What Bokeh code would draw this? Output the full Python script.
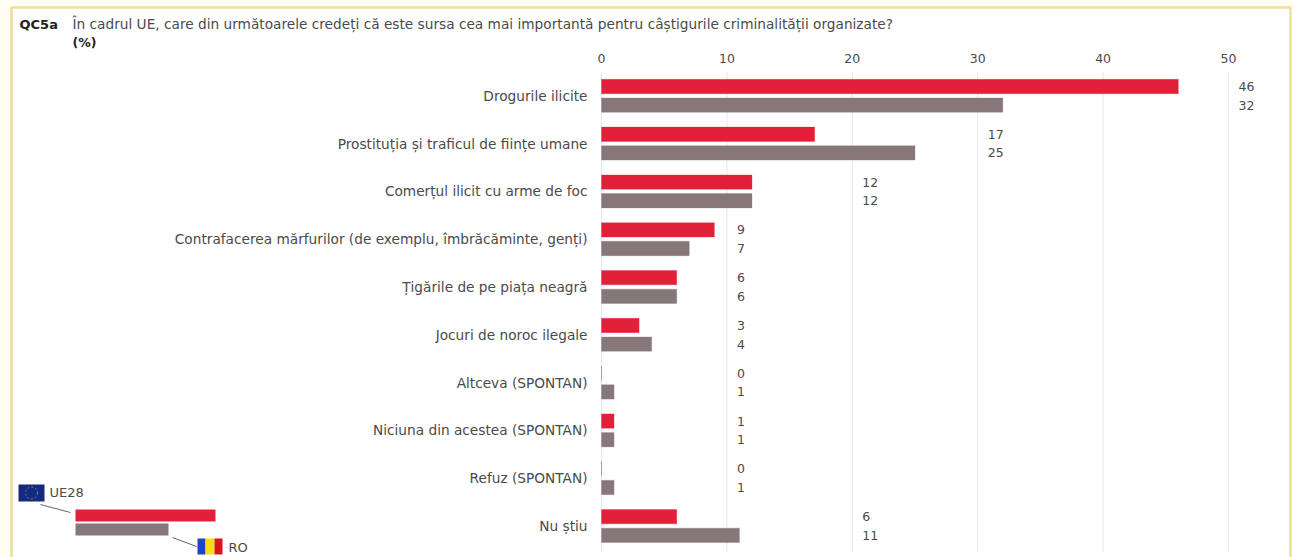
import math
from bokeh.embed import file_html
from bokeh.resources import INLINE
from bokeh.plotting import figure
from bokeh.models import (ColumnDataSource, Range1d, Label, BoxAnnotation, LinearAxis,
                          PolyAnnotation, FixedTicker)
from bokeh.transform import dodge
from bokeh.core.properties import value

categories = [
    "Drogurile ilicite",
    "Prostituția și traficul de ființe umane",
    "Comerțul ilicit cu arme de foc",
    "Contrafacerea mărfurilor (de exemplu, îmbrăcăminte, genți)",
    "Țigările de pe piața neagră",
    "Jocuri de noroc ilegale",
    "Altceva (SPONTAN)",
    "Niciuna din acestea (SPONTAN)",
    "Refuz (SPONTAN)",
    "Nu știu",
]
ue28 = [46, 17, 12, 9, 6, 3, 0, 1, 0, 6]
ro = [32, 25, 12, 7, 6, 4, 1, 1, 1, 11]
x_ticks = [0, 10, 20, 30, 40, 50]

FONT = "DejaVu Sans"
RED = "#e3203a"
GREY = "#86777b"
TEXT = "#4a4a4a"
W, H = 1293, 557
rows = list(range(len(categories)))

# Scale of the plot area: the frame fills the page so the heading and key can share it
PX_PER_UNIT = 12.54
PX_PER_ROW = 47.8
X0_PX = 601
ROW0_PX = 95.3

# Value labels sit just past the next gridline beyond the row's longest bar
label_x = [math.ceil(max(a, b) / 10) * 10 for a, b in zip(ue28, ro)]
source = ColumnDataSource(dict(
    row=rows, ue28=ue28, ro=ro, label_x=label_x,
    ue28_txt=[str(v) for v in ue28], ro_txt=[str(v) for v in ro],
))

p = figure(
    width=W, height=H, output_backend="svg", toolbar_location=None,
    x_range=Range1d(-X0_PX / PX_PER_UNIT, (W - X0_PX) / PX_PER_UNIT),
    y_range=Range1d((H - ROW0_PX) / PX_PER_ROW, -ROW0_PX / PX_PER_ROW),
    x_axis_location=None, y_axis_location=None, min_border=0,
)
p.outline_line_color = None
p.background_fill_color = "#fffef0"
p.border_fill_color = "#fffef0"
p.xgrid.visible = False
p.ygrid.visible = False


# Annotation helpers take page coordinates measured from the top-left corner
def sy(y):
    return H - y


def box(l, t, r, b, color, level="overlay"):
    p.add_layout(BoxAnnotation(left=l, right=r, top=sy(t), bottom=sy(b),
                               left_units="screen", right_units="screen",
                               top_units="screen", bottom_units="screen",
                               fill_color=color, fill_alpha=1, line_color=None, level=level))


def poly(xs, ys, **kw):
    p.add_layout(PolyAnnotation(xs=xs, ys=[sy(v) for v in ys], fill_alpha=0, line_alpha=1,
                                xs_units="screen", ys_units="screen", level="overlay", **kw))


def text(x, y, s, size="12px", style="normal", color=TEXT):
    p.add_layout(Label(x=x, y=sy(y), x_units="screen", y_units="screen", text=s,
                       text_font=FONT, text_font_size=size, text_font_style=style,
                       text_color=color, text_baseline="middle"))


# White panel behind everything else
box(11, 7, 1290, 557, "white", level="underlay")

# Gridlines span the rows only
p.segment(x0=x_ticks, x1=x_ticks, y0=[-0.5] * 6, y1=[9.55] * 6, line_color="#e9e7e7", line_width=1)

top_axis = LinearAxis(fixed_location=-0.5, ticker=FixedTicker(ticks=x_ticks))
top_axis.axis_line_color = None
top_axis.major_tick_line_color = None
top_axis.minor_tick_line_color = None
top_axis.major_label_text_font = FONT
top_axis.major_label_text_font_size = "12.5px"
top_axis.major_label_text_color = TEXT
top_axis.major_label_standoff = 3
p.add_layout(top_axis, "above")

row_axis = LinearAxis(fixed_location=0, ticker=FixedTicker(ticks=rows),
                      major_label_overrides=dict(zip(rows, categories)))
row_axis.axis_line_color = None
row_axis.major_tick_line_color = None
row_axis.minor_tick_line_color = None
row_axis.major_label_text_font = FONT
row_axis.major_label_text_font_size = "13.7px"
row_axis.major_label_text_color = TEXT
row_axis.major_label_standoff = 8
p.add_layout(row_axis, "left")

BAR_H = 0.30
OFFSET = 0.195
p.hbar(y=dodge("row", -OFFSET), right="ue28", left=0, height=BAR_H, source=source,
       fill_color=RED, line_color=RED, line_alpha=0.3)
p.hbar(y=dodge("row", OFFSET), right="ro", left=0, height=BAR_H, source=source,
       fill_color=GREY, line_color=GREY, line_alpha=0.3)

for col, off in (("ue28_txt", -OFFSET), ("ro_txt", OFFSET)):
    p.text(x="label_x", y=dodge("row", off), text=col, source=source,
           x_offset=10, text_baseline="middle", text_font=value(FONT),
           text_font_size="12.5px", text_color=TEXT)

# Panel frame
poly([11, 1290, 1290, 11], [7, 7, 560, 560], line_color="#ebe09a", line_width=2.5)

# Heading
text(19, 23.5, "QC5a", "13px", "bold", "#222222")
text(72, 23.5, "În cadrul UE, care din următoarele credeți că este sursa cea mai importantă pentru "
               "câștigurile criminalității organizate?", "13.7px")
text(72, 42, "(%)", "12.5px", "bold", "#222222")

# Key: sample bars, flags and leader lines
box(75, 509, 215, 521, RED)
box(75, 523, 168, 535, GREY)
poly([40, 70], [504, 512], line_color="#666666", line_width=1)
poly([172, 196], [537, 546], line_color="#666666", line_width=1)
box(18, 484, 44, 501, "#142a7e")
ring = [(31 + 6 * math.cos(i * math.pi / 12), 492.5 + 6 * math.sin(i * math.pi / 12)) for i in range(24)]
poly([a for a, _ in ring], [b for _, b in ring], line_color="#8f8a50", line_width=1, line_dash="2 2")
text(49, 492, "UE28", "13px")
box(197, 538, 205, 554, "#1f45c4")
box(205, 538, 214, 554, "#f7dc13")
box(214, 538, 222, 554, "#d8141c")
text(228, 547, "RO", "13px")

open("out.html", "w").write(file_html(p, INLINE))
